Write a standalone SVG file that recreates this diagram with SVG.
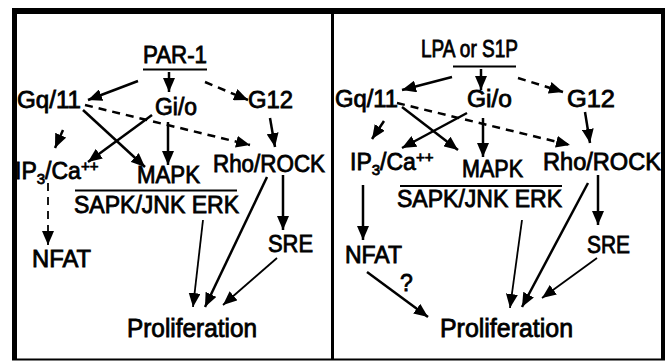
<svg xmlns="http://www.w3.org/2000/svg" width="671" height="361" viewBox="0 0 671 361">
<defs>
<marker id="ah" markerUnits="userSpaceOnUse" markerWidth="14" markerHeight="12" refX="14" refY="6" orient="auto">
<path d="M0,0 L14,6 L0,12 z" fill="#000"/>
</marker>
<style>
.t{font-family:"Liberation Sans",Arial,Helvetica,sans-serif;font-size:23px;fill:#000;stroke:#000;stroke-width:0.8}
.p{font-size:25px}
.s{font-size:15px}
.a{stroke:#000;stroke-width:2.5;fill:none;marker-end:url(#ah)}
.d{stroke-dasharray:8 6}
.thin{stroke-width:1.8}
.ln{stroke:#000;stroke-width:2}
.fr{stroke:#000}
</style>
</defs>
<rect width="671" height="361" fill="#fff"/>
<g id="frame">
<line class="fr" x1="14.5" y1="8" x2="14.5" y2="360" stroke-width="5"/>
<line class="fr" x1="12" y1="11" x2="665" y2="11" stroke-width="6"/>
<line class="fr" x1="663" y1="8" x2="663" y2="360" stroke-width="4"/>
<line class="fr" x1="12" y1="359.5" x2="665" y2="359.5" stroke-width="2"/>
<line class="fr" x1="332.5" y1="8" x2="332.5" y2="360" stroke-width="3"/>
</g>
<g id="left-nodes">
<g id="L-PAR1"><text class="t" x="143" y="63" textLength="64" lengthAdjust="spacingAndGlyphs">PAR-1</text><line class="ln" x1="143" y1="69.5" x2="207" y2="69.5"/></g>
<g id="L-Gq11"><text class="t" x="17" y="108" textLength="64" lengthAdjust="spacingAndGlyphs">Gq/11</text></g>
<g id="L-Gio"><text class="t" x="155" y="115" textLength="42" lengthAdjust="spacingAndGlyphs">Gi/o</text></g>
<g id="L-G12"><text class="t" x="248" y="108" textLength="45" lengthAdjust="spacingAndGlyphs">G12</text></g>
<g id="L-IP3"><text class="t" x="15" y="179">IP<tspan class="s" dy="5">3</tspan><tspan dy="-5">/Ca</tspan><tspan class="s" dy="-8">++</tspan></text></g>
<g id="L-MAPK"><text class="t" x="137" y="183" textLength="63" lengthAdjust="spacingAndGlyphs">MAPK</text><line class="ln" x1="75" y1="190.5" x2="237" y2="190.5"/><text class="t" x="74" y="213" textLength="165" lengthAdjust="spacingAndGlyphs">SAPK/JNK ERK</text></g>
<g id="L-Rho"><text class="t" x="213" y="172" textLength="112" lengthAdjust="spacingAndGlyphs">Rho/ROCK</text></g>
<g id="L-NFAT"><text class="t" x="32" y="267" textLength="59" lengthAdjust="spacingAndGlyphs">NFAT</text></g>
<g id="L-SRE"><text class="t" x="268" y="252" textLength="45" lengthAdjust="spacingAndGlyphs">SRE</text></g>
<g id="L-Prolif"><text class="t p" x="127" y="337" textLength="130" lengthAdjust="spacingAndGlyphs">Proliferation</text></g>
</g>
<g id="right-nodes">
<g id="R-LPA"><text class="t" x="421" y="57" textLength="97" lengthAdjust="spacingAndGlyphs">LPA or S1P</text><line class="ln" x1="453" y1="66.5" x2="516" y2="66.5"/></g>
<g id="R-Gq11"><text class="t" x="335" y="107" textLength="63" lengthAdjust="spacingAndGlyphs">Gq/11</text></g>
<g id="R-Gio"><text class="t" x="467" y="107" textLength="45" lengthAdjust="spacingAndGlyphs">Gi/o</text></g>
<g id="R-G12"><text class="t" x="567" y="107" textLength="48" lengthAdjust="spacingAndGlyphs">G12</text></g>
<g id="R-IP3"><text class="t" x="350" y="170">IP<tspan class="s" dy="5">3</tspan><tspan dy="-5">/Ca</tspan><tspan class="s" dy="-8">++</tspan></text></g>
<g id="R-MAPK"><text class="t" x="462" y="177" textLength="61" lengthAdjust="spacingAndGlyphs">MAPK</text><line class="ln" x1="400" y1="186" x2="562" y2="186"/><text class="t" x="397" y="207" textLength="165" lengthAdjust="spacingAndGlyphs">SAPK/JNK ERK</text></g>
<g id="R-Rho"><text class="t" x="543" y="170" textLength="118" lengthAdjust="spacingAndGlyphs">Rho/ROCK</text></g>
<g id="R-NFAT"><text class="t" x="345" y="263" textLength="57" lengthAdjust="spacingAndGlyphs">NFAT</text></g>
<g id="R-SRE"><text class="t" x="587" y="253" textLength="43" lengthAdjust="spacingAndGlyphs">SRE</text></g>
<g id="R-Prolif"><text class="t p" x="440" y="337" textLength="133" lengthAdjust="spacingAndGlyphs">Proliferation</text></g>
</g>
<g id="connectors">
<line class="a" x1="138" y1="81" x2="88" y2="100"/>
<line class="a" x1="169" y1="72" x2="169" y2="92"/>
<line class="a d" x1="205" y1="82" x2="248" y2="100"/>
<line class="a d" x1="85" y1="105" x2="250" y2="145"/>
<line class="a" x1="83" y1="110" x2="145" y2="167"/>
<line class="a" x1="152" y1="115" x2="88" y2="162"/>
<line class="a" x1="168" y1="122" x2="168" y2="165"/>
<line class="a" x1="63" y1="130" x2="55" y2="148"/>
<line class="a" x1="270" y1="118" x2="275" y2="147"/>
<line class="a d thin" x1="48" y1="183" x2="48" y2="245"/>
<line class="a" x1="267" y1="177" x2="205" y2="307"/>
<line class="a" x1="283" y1="175" x2="283" y2="230"/>
<line class="a thin" x1="203" y1="220" x2="193" y2="307"/>
<line class="a thin" x1="277" y1="258" x2="223" y2="305"/>
<line class="a" x1="452" y1="77" x2="402" y2="90"/>
<line class="a" x1="481" y1="69" x2="481" y2="90"/>
<line class="a d" x1="518" y1="78" x2="563" y2="92"/>
<line class="a d" x1="397" y1="103" x2="570" y2="145"/>
<line class="a" x1="402" y1="107" x2="458" y2="150"/>
<line class="a" x1="467" y1="113" x2="402" y2="148"/>
<line class="a" x1="483" y1="118" x2="483" y2="157"/>
<line class="a" x1="384" y1="121" x2="372" y2="139"/>
<line class="a" x1="585" y1="112" x2="590" y2="143"/>
<line class="a" x1="363" y1="185" x2="363" y2="240"/>
<line class="a" x1="367" y1="272" x2="428" y2="317"/>
<line class="a" x1="598" y1="175" x2="598" y2="225"/>
<line class="a" x1="588" y1="183" x2="522" y2="307"/>
<line class="a thin" x1="522" y1="220" x2="510" y2="308"/>
<line class="a thin" x1="597" y1="258" x2="542" y2="298"/>
<text class="t" x="400" y="291">?</text>
</g>
</svg>
